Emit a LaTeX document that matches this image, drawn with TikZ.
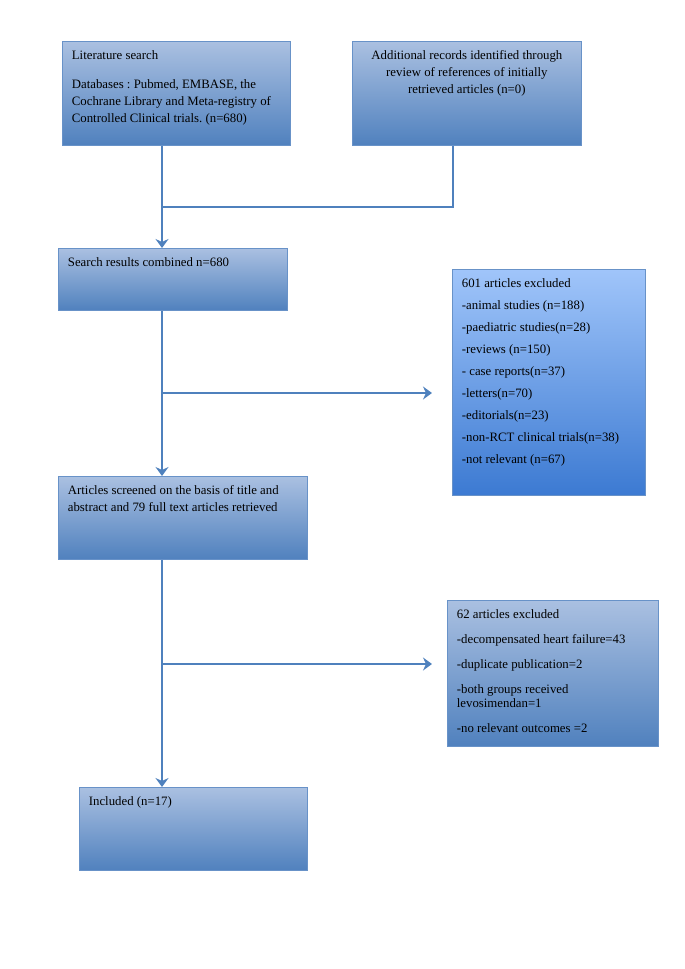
\documentclass[tikz,border=0pt]{standalone}
\usepackage{fontspec}
\setmainfont{Liberation Serif}
\usetikzlibrary{arrows.meta}
\frenchspacing

\definecolor{flowline}{RGB}{79,129,189}
\definecolor{boxedge}{RGB}{104,146,200}
\definecolor{boxtop}{RGB}{170,192,225}
\definecolor{boxmid}{RGB}{138,168,212}
\definecolor{boxbot}{RGB}{80,129,190}
\definecolor{extop}{RGB}{160,197,250}
\definecolor{exmid}{RGB}{118,164,232}
\definecolor{exbot}{RGB}{60,122,210}

\begin{document}
\begin{tikzpicture}[x=1pt, y=-1pt,
        box/.style={draw=boxedge, line width=0.8pt, anchor=north west,
            inner xsep=9.5pt, inner ysep=9pt,
            top color=boxtop, middle color=boxmid, bottom color=boxbot,
            font=\fontsize{12.8}{17}\selectfont},
        exbox/.style={box, draw=boxedge, top color=extop, middle color=exmid, bottom color=exbot},
        link/.style={draw=flowline, line width=2.6pt},
        arr/.style={link, -{Stealth[length=9pt, width=13pt, inset=3pt]}}]
        \useasboundingbox (0,0) rectangle (685,969);

        \node[style=box] (lit) at (62, 41) {\parbox[c][86pt][t]{209pt}{Literature search\\[12pt]
            Databases : Pubmed, EMBASE, the\\ Cochrane Library and Meta-registry of\\ Controlled Clinical trials. (n=680)}};
        \node[style=box] (add) at (352, 41) {\parbox[c][86pt][t]{210pt}{\centering Additional records identified through\\
            review of references of initially\\ retrieved articles (n=0)}};
        \node[style=box] (search) at (58, 248) {\parbox[c][44pt][t]{210pt}{Search results combined n=680}};
        \node[style=exbox] (excl1) at (452, 269) {\parbox[c][208pt][t]{174pt}{601 articles excluded\\[5pt]
            -animal studies (n=188)\\[5pt] -paediatric studies(n=28)\\[5pt] -reviews (n=150)\\[5pt]
            - case reports(n=37)\\[5pt] -letters(n=70)\\[5pt] -editorials(n=23)\\[5pt]
            -non-RCT clinical trials(n=38)\\[5pt] -not relevant (n=67)}};
        \node[style=box] (screen) at (58, 476) {\parbox[c][65pt][t]{230pt}{Articles screened on the basis of title and\\
            abstract and 79 full text articles retrieved}};
        \node[style=box] (excl2) at (447, 600) {\parbox[c][128pt][t]{192pt}{62 articles excluded\\[8pt]
            -decompensated heart failure=43\\[8pt] -duplicate publication=2\\[8pt]
            -both groups received\\[-3pt] levosimendan=1\\[8pt] -no relevant outcomes =2}};
        \node[style=box] (incl) at (79, 787) {\parbox[c][65pt][t]{209pt}{Included (n=17)}};

        \coordinate (join) at (162, 207);
        \coordinate (addx) at (453, 0);
        \coordinate (b1) at (162, 393);
        \coordinate (b2) at (162, 664);

        \draw[style=link] (lit.south -| join) -- (join);
        \draw[style=link] (addx |- add.south) |- (join);
        \draw[style=arr] (join) -- (search.north -| join);
        \draw[style=arr] (search.south -| b1) -- (screen.north -| b1);
        \draw[style=arr, shorten >=20pt] (b1) -- (b1 -| excl1.west);
        \draw[style=arr] (screen.south -| b2) -- (incl.north -| b2);
        \draw[style=arr, shorten >=15pt] (b2) -- (b2 -| excl2.west);
    \end{tikzpicture}
\end{document}
